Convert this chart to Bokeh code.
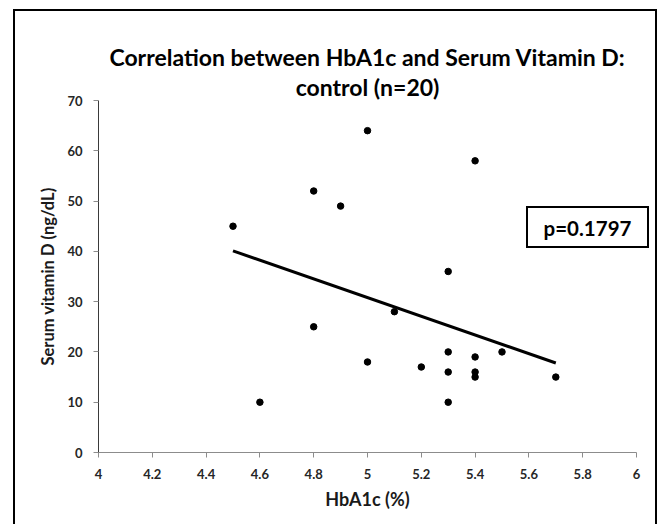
from bokeh.plotting import figure
from bokeh.models import Range1d, Label, FixedTicker, Title
from bokeh.embed import file_html
from bokeh.resources import INLINE

# ---- data ----
hba1c = [4.5, 4.6, 4.8, 4.8, 4.9, 5.0, 5.0, 5.1, 5.2, 5.3, 5.3, 5.3, 5.3, 5.4, 5.4, 5.4, 5.4, 5.5, 5.7]
vitamin_d = [45, 10, 52, 25, 49, 64, 18, 28, 17, 36, 20, 16, 10, 58, 19, 16, 15, 20, 15]
trend_x = [4.5, 5.7]
trend_y = [40.1, 17.8]
x_ticks = [4.0, 4.2, 4.4, 4.6, 4.8, 5.0, 5.2, 5.4, 5.6, 5.8, 6.0]
x_tick_labels = ["4", "4.2", "4.4", "4.6", "4.8", "5", "5.2", "5.4", "5.6", "5.8", "6"]
y_ticks = [0, 10, 20, 30, 40, 50, 60, 70]
title_lines = ["Correlation between HbA1c and Serum Vitamin D:", "control (n=20)"]
p_value_text = "p=0.1797"
x_label = "HbA1c (%)"
y_label = "Serum vitamin D (ng/dL)"

FONT = "Lato"


def css_line(x, y, w, h):
    return (f"{x}px {y}px", f"{w}px {h}px")


# chart-area border (left, top, right) and the p-value box (top, bottom, left, right)
lines = [css_line(13, 9, 2, 515), css_line(13, 9, 644, 2), css_line(655, 9, 2, 515),
         css_line(526, 206, 123, 2), css_line(526, 246, 123, 2),
         css_line(526, 206, 2, 42), css_line(647, 206, 2, 42)]
border_css = {
    "background-color": "white",
    "background-image": ", ".join(["linear-gradient(#000, #000)"] * len(lines)),
    "background-position": ", ".join(pos for pos, _ in lines),
    "background-size": ", ".join(size for _, size in lines),
    "background-repeat": "no-repeat",
}

p = figure(width=660, height=524, output_backend="svg", toolbar_location=None, title=None,
           x_range=Range1d(4, 6), y_range=Range1d(0, 70),
           min_border_left=98, min_border_right=24, min_border_top=100, min_border_bottom=72,
           styles=border_css)
p.background_fill_color = None
p.border_fill_color = None
p.outline_line_color = None
p.xgrid.grid_line_color = None
p.ygrid.grid_line_color = None

# two-line title (last added sits on top)
for line in reversed(title_lines):
    p.add_layout(Title(text=line, align="center", text_font=FONT, text_font_style="bold",
                       text_font_size="23px", text_color="black", standoff=0), "above")

for ax in (p.xaxis[0], p.yaxis[0]):
    ax.major_tick_in = 0
    ax.major_tick_out = 5
    ax.minor_tick_line_color = None
    ax.major_tick_line_color = "#8c8c8c"
    ax.major_label_text_font = FONT
    ax.major_label_text_font_style = "bold"
    ax.major_label_text_font_size = "13px"
    ax.major_label_text_color = "#262626"
    ax.axis_label_text_font = FONT
    ax.axis_label_text_font_style = "bold"
    ax.axis_label_text_color = "#1a1a1a"

p.xaxis[0].ticker = FixedTicker(ticks=x_ticks)
p.xaxis[0].major_label_overrides = dict(zip(x_ticks, x_tick_labels))
p.xaxis[0].axis_line_color = "#8c8c8c"
p.xaxis[0].major_label_standoff = 11
p.xaxis[0].axis_label = x_label
p.xaxis[0].axis_label_text_font_size = "18px"
p.xaxis[0].axis_label_standoff = 6

p.yaxis[0].ticker = FixedTicker(ticks=y_ticks)
p.yaxis[0].axis_line_color = "#3a3a3a"
p.yaxis[0].major_label_standoff = 11
p.yaxis[0].axis_label = y_label
p.yaxis[0].axis_label_text_font_size = "16.5px"
p.yaxis[0].axis_label_standoff = 6

p.line(trend_x, trend_y, line_color="black", line_width=3)
p.scatter(hba1c, vitamin_d, size=6.5, fill_color="black", line_color="black")

# p-value text (its box is drawn by the CSS lines above)
p.add_layout(Label(x=5.8178, y=44.74, text=p_value_text, text_align="center", text_baseline="middle",
                   text_font=FONT, text_font_style="bold", text_font_size="20.5px", text_color="black"))

open("out.html", "w").write(file_html(p, INLINE))
